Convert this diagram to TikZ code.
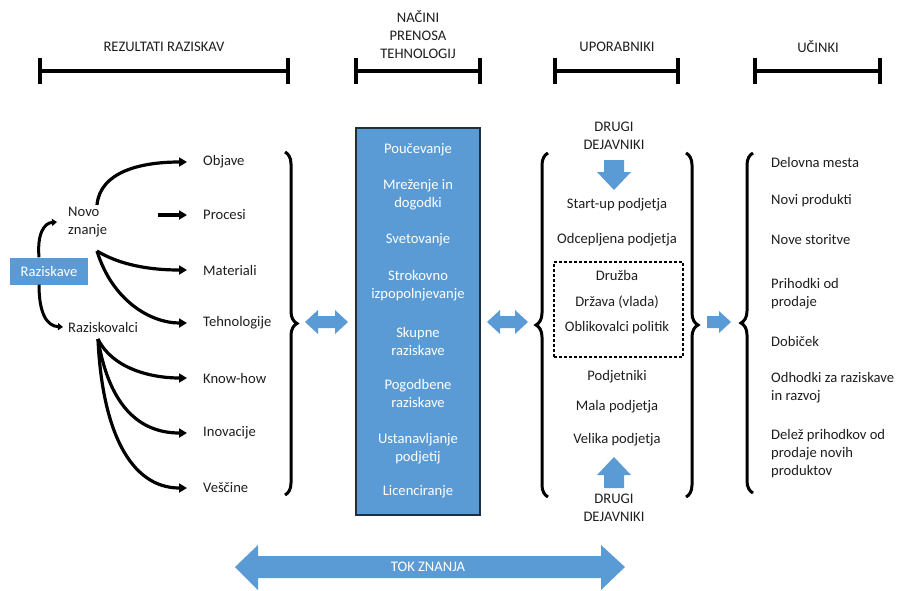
\documentclass[tikz,border=0pt]{standalone}
\usepackage{fontspec}
\setmainfont{Carlito}
\usetikzlibrary{decorations.pathreplacing,arrows.meta}
\definecolor{myblue}{HTML}{5B9BD5}
\definecolor{ink}{HTML}{1E1E1E}
\definecolor{boxedge}{HTML}{1F2F40}
\newcommand\lblfont{\fontsize{14.6}{18}\selectfont}
\begin{document}
\begin{tikzpicture}[x=1pt,y=-1pt,
  every node/.style={font=\lblfont, inner sep=0pt, text=ink},
  txt/.style={anchor=west, align=left},
  ctxt/.style={anchor=center, align=center},
  wtxt/.style={anchor=center, align=center, text=white},
  barline/.style={line width=3.6pt},
  tickline/.style={line width=4.4pt},
  conn/.style={line width=3.2pt, -{Triangle[length=8pt,width=9pt]}},
  sconn/.style={line width=3pt, -{Triangle[length=5pt,width=7pt]}},
  brc/.style={decorate, decoration={brace, amplitude=12pt, aspect=0.5}, line width=3pt},
  blockarrow/.style={fill=myblue, draw=none}
]
\useasboundingbox (0,0) rectangle (902,590);

% ---------- headers ----------
\node[ctxt] (h1) at (164,47) {REZULTATI RAZISKAV};
\node[ctxt] (h2) at (418,35) {NAČINI\\PRENOSA\\TEHNOLOGIJ};
\node[ctxt] (h3) at (617,47) {UPORABNIKI};
\node[ctxt] (h4) at (818,47) {UČINKI};
\foreach \a/\b in {40/288, 356/480, 555/678, 755/880}{
  \draw[barline] (\a,71) -- (\b,71);
  \draw[tickline] (\a,58) -- (\a,84);
  \draw[tickline] (\b,58) -- (\b,84);
}

% ---------- left: research results ----------
\node[fill=myblue, text=white, minimum width=78pt, minimum height=27pt] (razb) at (49,271) {Raziskave};
\node[txt] (novo) at (68,222) {Novo\\znanje};
\node[txt] (razk) at (68,327) {Raziskovalci};

\node[txt] (objave) at (203,162) {Objave};
\node[txt] (procesi) at (203,215) {Procesi};
\node[txt] (mater) at (203,270) {Materiali};
\node[txt] (tehn) at (203,323) {Tehnologije};
\node[txt] (know) at (203,378) {Know-how};
\node[txt] (inov) at (203,433) {Inovacije};
\node[txt] (vesc) at (203,488) {Veščine};

\coordinate (nA) at (97,205);
\coordinate (nB) at (97,251);
\coordinate (pS) at (158,215);
\coordinate (rA) at (98,339);

\draw[sconn] ([xshift=-10pt]razb.north) .. controls (37,234) and (44,223) .. ([xshift=-11pt]novo.west);
\draw[sconn] ([xshift=-10pt]razb.south) .. controls (39,312) and (46,326) .. ([xshift=-5pt]razk.west);

\draw[conn] (nA) .. controls (100,172) and (140,162) .. ([xshift=-16pt]objave.west);
\draw[conn] (pS) -- ([xshift=-16pt]procesi.west);
\draw[conn] (nB) .. controls (125,268) and (160,270) .. ([xshift=-16pt]mater.west);
\draw[conn] (nB) .. controls (112,300) and (150,323) .. ([xshift=-16pt]tehn.west);
\draw[conn] (rA) .. controls (112,368) and (150,378) .. ([xshift=-16pt]know.west);
\draw[conn] (rA) .. controls (108,400) and (135,433) .. ([xshift=-16pt]inov.west);
\draw[conn] (rA) .. controls (102,430) and (130,488) .. ([xshift=-16pt]vesc.west);

\draw[brc] (285,152) -- (285,495);

% double arrow 1
\fill[blockarrow] (305,322) -- (318,310) -- (318,316) -- (335,316) -- (335,310) -- (348,322) -- (335,334) -- (335,328) -- (318,328) -- (318,334) -- cycle;

% ---------- middle: transfer channels ----------
\node[draw=boxedge, line width=1.6pt, fill=myblue, minimum width=124pt, minimum height=387pt] (tbox) at (418,321.5) {};
\node[wtxt] (t1) at (418,150) {Poučevanje};
\node[wtxt] (t2) at (418,195) {Mreženje in\\dogodki};
\node[wtxt] (t3) at (418,240) {Svetovanje};
\node[wtxt] (t4) at (418,286) {Strokovno\\izpopolnjevanje};
\node[wtxt] (t5) at (418,341) {Skupne\\raziskave};
\node[wtxt] (t6) at (418,393) {Pogodbene\\raziskave};
\node[wtxt] (t7) at (418,449) {Ustanavljanje\\podjetij};
\node[wtxt] (t8) at (418,492) {Licenciranje};

% double arrow 2
\fill[blockarrow] (487,322) -- (500,310) -- (500,316) -- (515,316) -- (515,310) -- (528,322) -- (515,334) -- (515,328) -- (500,328) -- (500,334) -- cycle;

% ---------- users ----------
\draw[brc] (548,497) -- (548,153);
\draw[brc] (686,153) -- (686,497);

\node[ctxt] (dd1) at (614,136) {DRUGI\\DEJAVNIKI};
\fill[blockarrow] (604,160) -- (624,160) -- (624,172) -- (631,172) -- (614,190) -- (597,172) -- (604,172) -- cycle;

\node[ctxt] (u1) at (617,205) {Start-up podjetja};
\node[ctxt] (u2) at (617,240) {Odcepljena podjetja};
\node[draw=black, dash pattern=on 3pt off 2pt, line width=2.4pt, minimum width=129pt, minimum height=95pt] (dbox) at (618.5,309.5) {};
\node[ctxt] (u3) at (617,275) {Družba};
\node[ctxt] (u4) at (617,302) {Država (vlada)};
\node[ctxt] (u5) at (617,328) {Oblikovalci politik};
\node[ctxt] (u6) at (617,377) {Podjetniki};
\node[ctxt] (u7) at (617,407) {Mala podjetja};
\node[ctxt] (u8) at (617,440) {Velika podjetja};

\fill[blockarrow] (614,457) -- (631,475) -- (624,475) -- (624,488) -- (604,488) -- (604,475) -- (597,475) -- cycle;
\node[ctxt] (dd2) at (614,508) {DRUGI\\DEJAVNIKI};

% right arrow
\fill[blockarrow] (707,316) -- (719,316) -- (719,311) -- (731,322) -- (719,333) -- (719,328) -- (707,328) -- cycle;

% ---------- effects ----------
\draw[brc] (753,493) -- (753,153);
\node[txt] (e1) at (771,162) {Delovna mesta};
\node[txt] (e2) at (771,201) {Novi produkti};
\node[txt] (e3) at (771,240) {Nove storitve};
\node[txt] (e4) at (771,294) {Prihodki od\\prodaje};
\node[txt] (e5) at (771,341) {Dobiček};
\node[txt] (e6) at (771,388) {Odhodki za raziskave\\in razvoj};
\node[txt] (e7) at (771,454) {Delež prihodkov od\\prodaje novih\\produktov};

% ---------- knowledge flow ----------
\fill[blockarrow] (235,567) -- (258,545) -- (258,556) -- (601,556) -- (601,545) -- (625,567) -- (601,590) -- (601,578) -- (258,578) -- (258,590) -- cycle;
\node[wtxt] (tok) at (428,567) {TOK ZNANJA};
\end{tikzpicture}
\end{document}
